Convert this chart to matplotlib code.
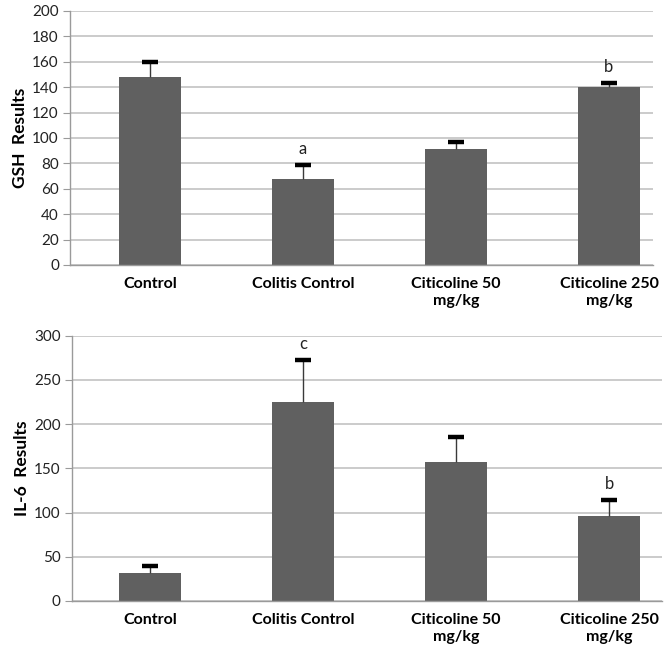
import matplotlib
matplotlib.use("Agg")
import matplotlib.pyplot as plt
import numpy as np

categories = ["Control", "Colitis Control", "Citicoline 50\nmg/kg", "Citicoline 250\nmg/kg"]
gsh_values = [148, 68, 91, 140]
gsh_errors = [12, 11, 6, 3]
gsh_letters = ["", "a", "", "b"]
il6_values = [32, 225, 157, 96]
il6_errors = [8, 47, 28, 18]
il6_letters = ["", "c", "", "b"]

plt.rcParams['font.family'] = ['Lato', 'DejaVu Sans']

fig = plt.figure(figsize=(6.66, 6.48), dpi=100)
W, H = 666, 648

def make_ax(left, right, top, bottom):
    return fig.add_axes([left / W, 1 - bottom / H, (right - left) / W, (bottom - top) / H])

ax1 = make_ax(70, 653, 11, 265)
ax2 = make_ax(71.7, 662, 335.7, 601)

def draw(ax, vals, errs, letters, ymax, step, ylabel, xlim):
    x = np.arange(len(categories))
    vals = np.array(vals, dtype=float)
    errs = np.array(errs, dtype=float)
    ax.set_axisbelow(True)
    ax.yaxis.grid(True, color='#bdbdbd', linewidth=1.1)
    ax.bar(x, vals, width=0.4, color='#606060', zorder=2)
    ax.vlines(x, vals, vals + errs, color='#3a3a3a', linewidth=1.0, zorder=3)
    ax.plot(x, vals + errs, linestyle='none', marker='_', markersize=12,
            markeredgewidth=3.2, color='black', zorder=4)
    for xi, v, e, l in zip(x, vals, errs, letters):
        if l:
            ax.annotate(l, (xi, v + e), xytext=(0, 11.5), textcoords='offset points',
                        ha='center', va='center', fontsize=12, color='#222222')
    ax.set_ylim(0, ymax)
    ax.set_yticks(np.arange(0, ymax + 1, step))
    ax.set_xlim(*xlim)
    ax.set_xticks(x)
    ax.set_xticklabels(categories, fontweight='bold', fontsize=11.5, linespacing=1.25)
    ax.tick_params(axis='x', length=0, pad=9)
    ax.tick_params(axis='y', length=5, color='#9a9a9a', labelsize=11, labelcolor='#222222', pad=3)
    for s in ['top', 'right']:
        ax.spines[s].set_visible(False)
    for s in ['left', 'bottom']:
        ax.spines[s].set_color('#9a9a9a')
        ax.spines[s].set_linewidth(1.0)
    ax.set_ylabel(ylabel, fontweight='bold', fontsize=12.5, labelpad=3)

draw(ax1, gsh_values, gsh_errors, gsh_letters, 200, 20, "GSH  Results", (-0.523, 3.288))
draw(ax2, il6_values, il6_errors, il6_letters, 300, 50, "IL-6  Results", (-0.512, 3.346))

fig.savefig("out.png", dpi=100)
